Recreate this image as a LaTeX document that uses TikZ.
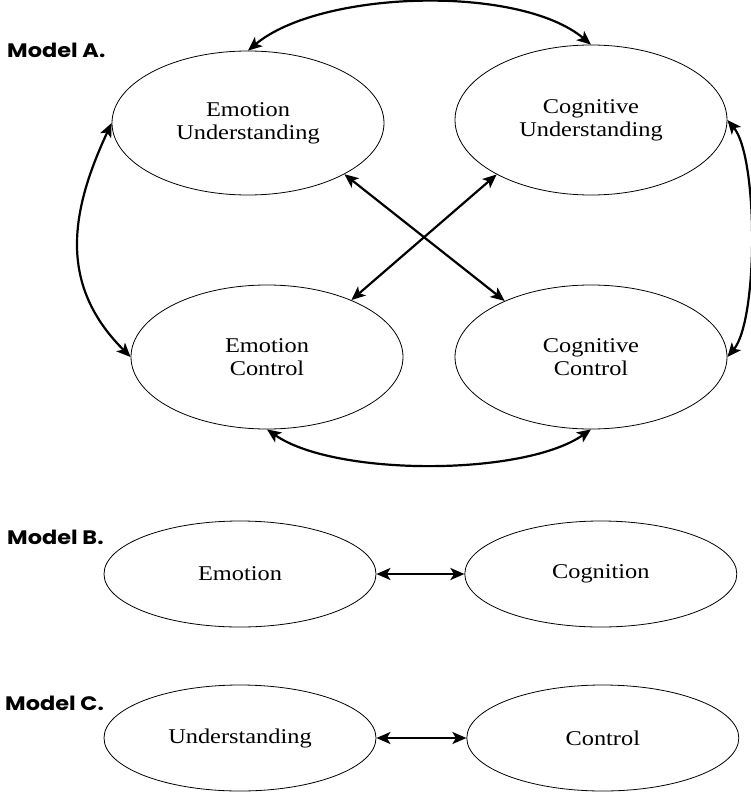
\documentclass[tikz,border=0pt]{standalone}
\usepackage{fontspec}
\setmainfont{Liberation Serif}[FakeStretch=1.16]
\newfontfamily\modelfont{Poppins}[FakeStretch=1.15]
\usetikzlibrary{arrows.meta,positioning,shapes.geometric}
\tikzset{
    >={Stealth[length=14pt,width=12pt,inset=3.5pt]},
    oval/.style={
           ellipse,
           draw=black, line width=0.8pt,
           minimum width=272pt,
           minimum height=144pt,
           inner sep=0pt,
           align=center,
           font=\fontsize{21}{23}\selectfont},
    lav/.style={
           minimum height=106pt},
    pil/.style={
           <->,
           line width=2.2pt},
    etiket/.style={
           anchor=west,
           inner sep=0pt,
           font=\modelfont\bfseries\fontsize{19.5}{22}\selectfont}
}

\begin{document}
\begin{tikzpicture}[x=1pt,y=1pt]
        \useasboundingbox (0,0) rectangle (750,-792);

        % Model A
        \node[etiket] (ma) at (7,-50) {Model A.};
        \node[oval] (eu) at (248,-123) {Emotion\\Understanding};
        \node[oval, minimum height=150pt] (cu) at (591,-120) {Cognitive\\Understanding};
        \node[oval] (ec) at (267,-357) {Emotion\\Control};
        \node[oval] (cc) at (591,-357) {Cognitive\\Control};

        \draw[pil] (eu.north) to[out=40,in=140,looseness=0.7] (cu.north);
        \draw[pil] (eu.west) to[out=-115,in=135,looseness=1.1] (ec.west);
        \draw[pil] (cu.east) to[out=-50,in=50,looseness=0.52] (cc.east);
        \draw[pil] (ec.south) to[out=-35,in=-145,looseness=0.65] (cc.south);

        \draw[pil] (eu.-28) -- (cc.147);
        \draw[pil] (cu.-150) -- (ec.34);

        % Model B
        \node[etiket] (mb) at (7,-537) {Model B.};
        \node[oval, lav] (emo) at (240,-574) {Emotion};
        \node[oval, lav, right=88pt of emo] (cog) {Cognition};
        \draw[pil] (emo) -- (cog);

        % Model C
        \node[etiket] (mc) at (5,-703) {Model C.};
        \node[oval, lav] (und) at (240,-738) {Understanding};
        \node[oval, lav, right=90pt of und] (ctl) {Control};
        \draw[pil] (und) -- (ctl);
\end{tikzpicture}
\end{document}
